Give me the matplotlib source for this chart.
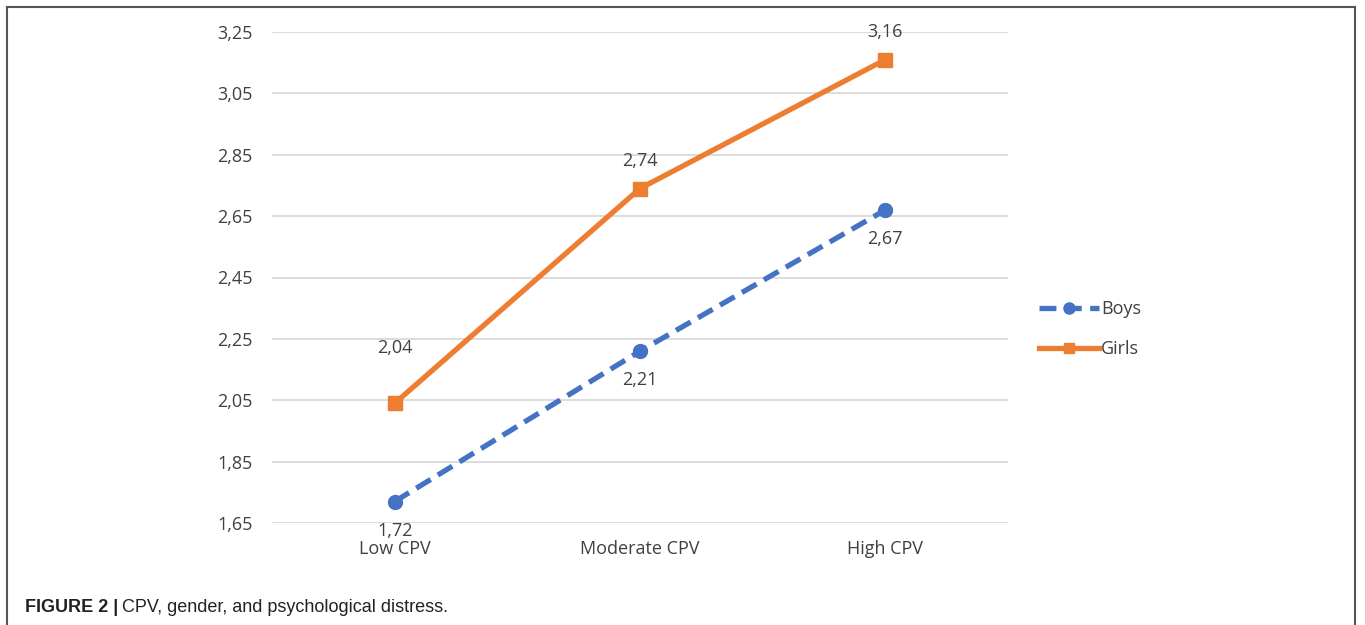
import matplotlib.pyplot as plt
from matplotlib.lines import Line2D
from matplotlib.ticker import FuncFormatter

categories = ['Low CPV', 'Moderate CPV', 'High CPV']
boys = [1.72, 2.21, 2.67]
girls = [2.04, 2.74, 3.16]
yticks = [1.65, 1.85, 2.05, 2.25, 2.45, 2.65, 2.85, 3.05, 3.25]

BLUE = '#4472C4'
ORANGE = '#ED7D31'
TXT = '#404040'

plt.rcParams['font.family'] = ['Open Sans', 'DejaVu Sans']

W, H = 1365, 625
fig = plt.figure(figsize=(W / 100, H / 100), dpi=100)
ax = fig.add_axes([272 / W, 1 - 523 / H, 736 / W, 491 / H])

x = range(len(categories))
ax.plot(x, boys, color=BLUE, lw=3.8, ls=(0, (3.2, 1.6)), marker='o', ms=10,
        label='Boys', zorder=3)
ax.plot(x, girls, color=ORANGE, lw=3.8, marker='s', ms=9.5,
        label='Girls', zorder=3)

def comma(v):
    return f'{v:.2f}'.replace('.', ',')

# label offsets in points (label centre relative to marker)
boys_off = [-21, -21, -21]
girls_off = [40, 20, 20]
for i, v in enumerate(boys):
    ax.annotate(comma(v), (i, v), xytext=(0, boys_off[i]), textcoords='offset points',
                ha='center', va='center', fontsize=13, color=TXT)
for i, v in enumerate(girls):
    ax.annotate(comma(v), (i, v), xytext=(0, girls_off[i]), textcoords='offset points',
                ha='center', va='center', fontsize=13, color=TXT)

ax.set_xlim(-0.5, 2.5)
ax.set_ylim(1.65, 3.25)
ax.set_yticks(yticks)
ax.yaxis.set_major_formatter(FuncFormatter(lambda v, p: comma(v)))
ax.set_xticks(list(x))
ax.set_xticklabels(categories)
ax.tick_params(length=0, labelsize=13, labelcolor=TXT)
ax.tick_params(axis='y', pad=14)
ax.tick_params(axis='x', pad=12)
ax.grid(axis='y', color='#D9D9D9', lw=1.3)
ax.set_axisbelow(True)
for s in ax.spines.values():
    s.set_visible(False)

leg = ax.legend(loc='center left', bbox_to_anchor=(1.02, 0.395), frameon=False,
                fontsize=13, labelcolor=TXT, handlelength=3.3, handletextpad=0.15,
                labelspacing=1.2, markerscale=0.8)

# frame around the figure
for xs, ys in [([7, 1355], [7, 7]), ([7, 7], [7, 625]), ([1355, 1355], [7, 625])]:
    fig.add_artist(Line2D([v / W for v in xs], [1 - v / H for v in ys],
                          color='#555555', lw=1.5))

t1 = fig.text(25 / W, 1 - 607 / H, 'FIGURE 2 |', fontsize=13, fontweight='bold',
              family='Liberation Sans', va='center', color='#222222')
fig.canvas.draw()
bb = t1.get_window_extent()
fig.text((bb.x1 + 4) / W, 1 - 607 / H, 'CPV, gender, and psychological distress.',
         fontsize=13, family='Liberation Sans', va='center', color='#222222')

fig.savefig('out.png', dpi=100)
